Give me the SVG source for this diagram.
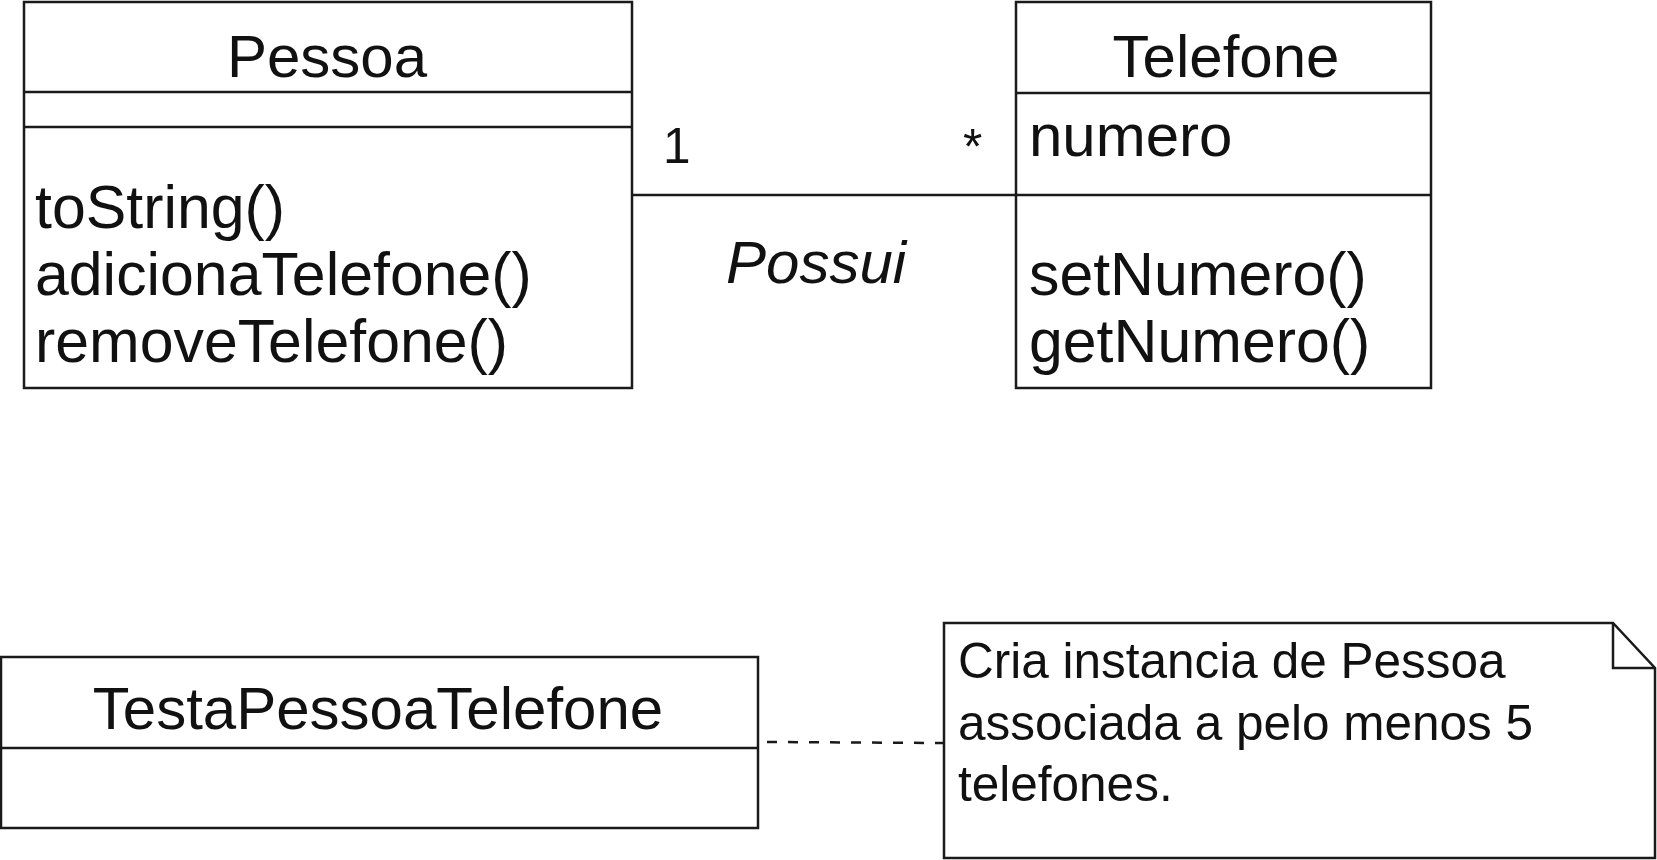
<svg xmlns="http://www.w3.org/2000/svg" width="1657" height="860" viewBox="0 0 1657 860">
<style>
.box{fill:#fff;stroke:#1a1a1a;stroke-width:2.5}
.ln{stroke:#1a1a1a;stroke-width:2.5;fill:none}
.t{font-family:"Liberation Sans",Arial,sans-serif;font-size:60px;fill:#111}
.m{font-size:60.8px}
.c{text-anchor:middle}
.n{font-family:"Liberation Sans",Arial,sans-serif;font-size:49.5px;fill:#111}
.dash{stroke:#1a1a1a;stroke-width:2.5;stroke-dasharray:10 11;fill:none}
</style>
<rect width="1657" height="860" fill="#fff"/>
<g id="connectors">
<line class="ln" x1="632" y1="195" x2="1016" y2="195"/>
<text class="n" x="663" y="163">1</text>
<text class="n" x="963" y="164">*</text>
<text class="t" x="726" y="283" font-style="italic">Possui</text>
<line class="dash" x1="767" y1="742" x2="944" y2="743"/>
</g>
<g id="Pessoa">
<rect class="box" x="24" y="2" width="608" height="386"/>
<line class="ln" x1="24" y1="92" x2="632" y2="92"/>
<line class="ln" x1="24" y1="127" x2="632" y2="127"/>
<text class="t c" x="327" y="77">Pessoa</text>
<text class="t m" x="35" y="228">toString()</text>
<text class="t m" x="35" y="295">adicionaTelefone()</text>
<text class="t m" x="35" y="362">removeTelefone()</text>
</g>
<g id="Telefone">
<rect class="box" x="1016" y="2" width="415" height="386"/>
<line class="ln" x1="1016" y1="93" x2="1431" y2="93"/>
<line class="ln" x1="1016" y1="195" x2="1431" y2="195"/>
<text class="t c" x="1226" y="77">Telefone</text>
<text class="t" x="1029" y="156">numero</text>
<text class="t m" x="1029" y="295">setNumero()</text>
<text class="t m" x="1029" y="362">getNumero()</text>
</g>
<g id="TestaPessoaTelefone">
<rect class="box" x="1" y="657" width="757" height="171"/>
<line class="ln" x1="1" y1="748" x2="758" y2="748"/>
<text class="t c" x="378" y="729">TestaPessoaTelefone</text>
</g>
<g id="note">
<path class="box" d="M944,623 H1613 L1655,668 V858 H944 Z"/>
<path class="ln" d="M1613,623 V668 H1655"/>
<text class="n" x="958" y="678">Cria instancia de Pessoa</text>
<text class="n" x="958" y="740">associada a pelo menos 5</text>
<text class="n" x="958" y="801">telefones.</text>
</g>
</svg>
